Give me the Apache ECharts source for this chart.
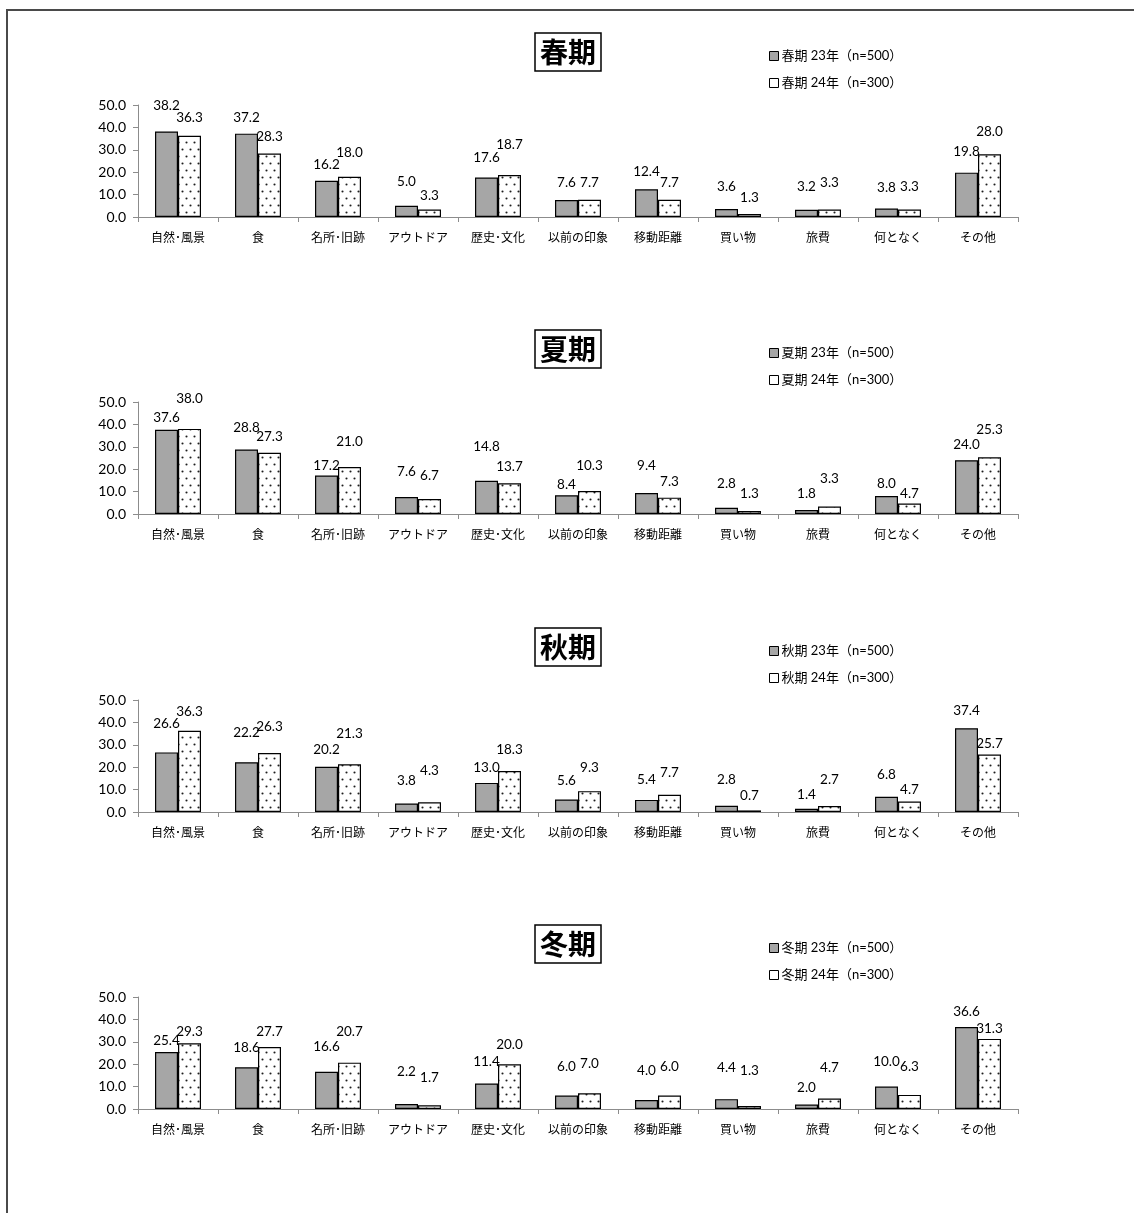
<!DOCTYPE html>
<html>
<head>
<meta charset="utf-8">
<title>季節別 旅行先選択理由</title>
<script src="https://cdn.jsdelivr.net/npm/echarts@6/dist/echarts.min.js"></script>
<style>
  html, body { margin: 0; padding: 0; background: #fff; }
  #chart { width: 1134px; height: 1213px; }
</style>
</head>
<body>
<div id="chart"></div>
<script>
// Categories (reasons) shared by all four seasonal panels
const categories = ['自然･風景', '食', '名所･旧跡', 'アウトドア', '歴史･文化', '以前の印象', '移動距離', '買い物', '旅費', '何となく', 'その他'];
const seasons = ['春期', '夏期', '秋期', '冬期'];
const yTicks = [0, 10, 20, 30, 40, 50];

// Percentages, 23年 (n=500) and 24年 (n=300)
const spring23 = [38.2, 37.2, 16.2, 5.0, 17.6, 7.6, 12.4, 3.6, 3.2, 3.8, 19.8];
const spring24 = [36.3, 28.3, 18.0, 3.3, 18.7, 7.7, 7.7, 1.3, 3.3, 3.3, 28.0];
const summer23 = [37.6, 28.8, 17.2, 7.6, 14.8, 8.4, 9.4, 2.8, 1.8, 8.0, 24.0];
const summer24 = [38.0, 27.3, 21.0, 6.7, 13.7, 10.3, 7.3, 1.3, 3.3, 4.7, 25.3];
const autumn23 = [26.6, 22.2, 20.2, 3.8, 13.0, 5.6, 5.4, 2.8, 1.4, 6.8, 37.4];
const autumn24 = [36.3, 26.3, 21.3, 4.3, 18.3, 9.3, 7.7, 0.7, 2.7, 4.7, 25.7];
const winter23 = [25.4, 18.6, 16.6, 2.2, 11.4, 6.0, 4.0, 4.4, 2.0, 10.0, 36.6];
const winter24 = [29.3, 27.7, 20.7, 1.7, 20.0, 7.0, 6.0, 1.3, 4.7, 6.3, 31.3];

// How far (px) each value label sits above its bar, so neighbouring labels don't collide
const riseSpring23 = [26, 16, 16, 24, 20, 17, 18, 22, 23, 21, 21];
const riseSpring24 = [18, 17, 24, 14, 30, 17, 17, 16, 27, 23, 23];
const riseSummer23 = [12, 22, 10, 25, 34, 11, 27, 24, 16, 12, 16];
const riseSummer24 = [30, 16, 25, 23, 17, 25, 16, 17, 28, 10, 28];
const riseAutumn23 = [29, 30, 17, 23, 15, 19, 20, 26, 14, 22, 18];
const riseAutumn24 = [19, 26, 31, 32, 21, 24, 22, 15, 26, 12, 11];
const riseWinter23 = [11, 20, 25, 32, 22, 29, 29, 32, 17, 25, 15];
const riseWinter24 = [12, 15, 31, 28, 20, 30, 29, 35, 31, 28, 10];

const values23 = [spring23, summer23, autumn23, winter23];
const values24 = [spring24, summer24, autumn24, winter24];
const rise23 = [riseSpring23, riseSummer23, riseAutumn23, riseWinter23];
const rise24 = [riseSpring24, riseSummer24, riseAutumn24, riseWinter24];

// Panel geometry
const gridTops = [105, 402, 700, 997];
const gridLeft = 138, gridWidth = 880, gridHeight = 112;

const NUM_FONT = 'Lato, "Noto Sans CJK JP", sans-serif';
const JP_FONT = '"Noto Sans CJK JP", sans-serif';

// Sparse dotted fill for the 24年 bars
function dotPattern() {
  const c = document.createElement('canvas');
  c.width = 8; c.height = 14;
  const g = c.getContext('2d');
  g.fillStyle = '#ffffff';
  g.fillRect(0, 0, 8, 14);
  g.fillStyle = '#1e1e1e';
  g.beginPath(); g.arc(2.5, 2.5, 1.05, 0, Math.PI * 2); g.fill();
  g.beginPath(); g.arc(6.5, 9.5, 1.05, 0, Math.PI * 2); g.fill();
  return c;
}
const dots = { image: dotPattern(), repeat: 'repeat' };

const grids = [], xAxes = [], yAxes = [], series = [], titles = [], legends = [];

seasons.forEach((s, i) => {
  const name23 = s + ' 23年（n=500）';
  const name24 = s + ' 24年（n=300）';
  grids.push({ left: gridLeft, top: gridTops[i], width: gridWidth, height: gridHeight, containLabel: false });
  xAxes.push({
    type: 'category', gridIndex: i, data: categories,
    axisLine: { lineStyle: { color: '#8c8c8c', width: 1 } },
    axisTick: { show: true, alignWithLabel: false, length: 5, lineStyle: { color: '#8c8c8c' } },
    axisLabel: { color: '#000', fontSize: 12, fontFamily: JP_FONT, margin: 14, interval: 0 }
  });
  yAxes.push({
    type: 'value', gridIndex: i, min: yTicks[0], max: yTicks[yTicks.length - 1], interval: 10,
    axisLine: { show: true, lineStyle: { color: '#8c8c8c', width: 1 } },
    axisTick: { show: true, length: 5, lineStyle: { color: '#8c8c8c' } },
    splitLine: { show: false },
    axisLabel: { color: '#000', fontSize: 14, fontFamily: NUM_FONT, margin: 12, formatter: v => v.toFixed(1) }
  });
  const mk = (vals, rises) => vals.map((v, k) => ({
    value: v,
    label: { distance: Math.max(0, rises[k] - 7) }
  }));
  const labelStyle = {
    show: true, position: 'top', color: '#000', fontSize: 13.5, lineHeight: 14,
    fontFamily: NUM_FONT, formatter: p => p.value.toFixed(1)
  };
  series.push({
    name: name23, type: 'bar', xAxisIndex: i, yAxisIndex: i,
    barWidth: 23, barGap: '0%',
    itemStyle: { color: '#a6a6a6', borderColor: '#000', borderWidth: 1.2 },
    label: labelStyle,
    data: mk(values23[i], rise23[i]),
    animation: false
  });
  series.push({
    name: name24, type: 'bar', xAxisIndex: i, yAxisIndex: i,
    barWidth: 23, barGap: '0%',
    itemStyle: { color: dots, borderColor: '#000', borderWidth: 1.2 },
    label: labelStyle,
    data: mk(values24[i], rise24[i]),
    animation: false
  });
  titles.push({
    text: s, left: 535, top: gridTops[i] - 72,
    padding: [4, 5, 4, 5], borderColor: '#000', borderWidth: 1.5,
    textStyle: { fontSize: 28, fontWeight: 'bold', fontFamily: JP_FONT, color: '#000', lineHeight: 30 }
  });
  legends.push({
    orient: 'vertical', left: 764, top: gridTops[i] - 62,
    itemWidth: 9, itemHeight: 9, itemGap: 11, icon: 'rect',
    textStyle: { fontSize: 13, fontFamily: NUM_FONT, color: '#000', lineHeight: 16, padding: [0, 0, 0, -2] },
    data: [
      { name: name23, itemStyle: { color: '#a6a6a6', borderColor: '#000', borderWidth: 1 } },
      { name: name24, itemStyle: { color: '#fff', borderColor: '#000', borderWidth: 1 } }
    ],
    selectedMode: false
  });
});

const chart = echarts.init(document.getElementById('chart'), null, { renderer: 'canvas' });
chart.setOption({
  backgroundColor: '#fff',
  animation: false,
  title: titles,
  legend: legends,
  grid: grids,
  xAxis: xAxes,
  yAxis: yAxes,
  series: series,
  graphic: [
    // outer frame (top and left edges)
    { type: 'line', shape: { x1: 6, y1: 10, x2: 1134, y2: 10 }, style: { stroke: '#4a4a4a', lineWidth: 2 } },
    { type: 'line', shape: { x1: 7, y1: 10, x2: 7, y2: 1213 }, style: { stroke: '#4a4a4a', lineWidth: 2 } }
  ]
});
</script>
</body>
</html>
